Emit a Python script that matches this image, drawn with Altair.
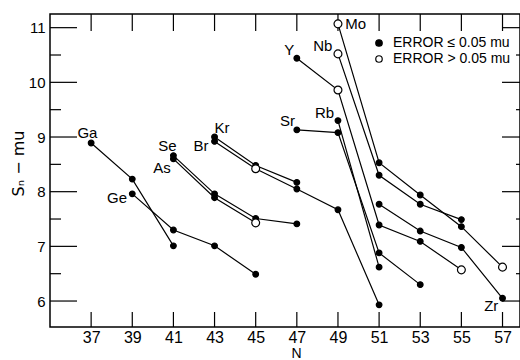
import altair as alt
import pandas as pd

# ---------------- data ----------------
GA_N, GA_S, GA_OPEN = [37, 39, 41], [8.89, 8.23, 7.01], [0, 0, 0]
GE_N, GE_S, GE_OPEN = [39, 41, 43, 45], [7.96, 7.30, 7.01, 6.49], [0, 0, 0, 0]
AS_N, AS_S, AS_OPEN = [41, 43, 45], [8.60, 7.89, 7.43], [0, 0, 1]
SE_N, SE_S, SE_OPEN = [41, 43, 45, 47], [8.66, 7.96, 7.51, 7.41], [0, 0, 0, 0]
KR_N, KR_S, KR_OPEN = [43, 45, 47], [9.00, 8.48, 8.17], [0, 0, 0]
BR_N, BR_S, BR_OPEN = [43, 45, 47, 49, 51], [8.92, 8.42, 8.05, 7.67, 5.93], [0, 1, 0, 0, 0]
SR_N, SR_S, SR_OPEN = [47, 49, 51, 53], [9.13, 9.08, 6.88, 6.30], [0, 0, 0, 0]
RB_N, RB_S, RB_OPEN = [49, 51], [9.30, 6.62], [0, 0]
Y_N, Y_S, Y_OPEN = [47, 49, 51, 53, 55], [10.44, 9.86, 7.39, 7.09, 6.57], [0, 1, 0, 0, 1]
NB_N, NB_S, NB_OPEN = [49, 51, 53, 55], [10.52, 8.30, 7.77, 7.49], [1, 0, 0, 0]
MO_N, MO_S, MO_OPEN = [49, 51, 53, 55, 57], [11.07, 8.53, 7.94, 7.36, 6.62], [1, 0, 0, 0, 1]
ZR_N, ZR_S, ZR_OPEN = [51, 53, 55, 57], [7.77, 7.28, 6.98, 6.05], [0, 0, 0, 0]

# element labels (text anchor in data coordinates)
LABEL_TEXT = ["Ga", "Ge", "Se", "As", "Br", "Kr", "Sr", "Rb", "Y", "Nb", "Mo", "Zr"]
LABEL_N = [36.82, 38.26, 40.71, 40.45, 42.34, 43.36, 46.55, 48.35, 46.63, 48.26, 49.86, 56.45]
LABEL_S = [9.08, 7.89, 8.84, 8.44, 8.84, 9.17, 9.30, 9.44, 10.59, 10.67, 11.06, 5.90]

X_TICKS = [37, 39, 41, 43, 45, 47, 49, 51, 53, 55, 57]
Y_TICKS = [6, 7, 8, 9, 10, 11]
Y_MINOR = [6.5, 7.5, 8.5, 9.5, 10.5]
LEGEND_LABELS = ["ERROR \u2264 0.05 mu", "ERROR > 0.05 mu"]

# ---------------- build table ----------------
series = {
    "Ga": (GA_N, GA_S, GA_OPEN), "Ge": (GE_N, GE_S, GE_OPEN),
    "As": (AS_N, AS_S, AS_OPEN), "Se": (SE_N, SE_S, SE_OPEN),
    "Kr": (KR_N, KR_S, KR_OPEN), "Br": (BR_N, BR_S, BR_OPEN),
    "Sr": (SR_N, SR_S, SR_OPEN), "Rb": (RB_N, RB_S, RB_OPEN),
    "Y": (Y_N, Y_S, Y_OPEN), "Nb": (NB_N, NB_S, NB_OPEN),
    "Mo": (MO_N, MO_S, MO_OPEN), "Zr": (ZR_N, ZR_S, ZR_OPEN),
}
rows = []
for name, (ns, ss, os_) in series.items():
    for n, s, o in zip(ns, ss, os_):
        rows.append({"el": name, "N": n, "S": s, "err": LEGEND_LABELS[o], "open": o})
df = pd.DataFrame(rows)
labels = pd.DataFrame({"t": LABEL_TEXT, "N": LABEL_N, "S": LABEL_S})
xt = pd.DataFrame({"N": X_TICKS})
yt = pd.DataFrame({"S": Y_TICKS})
ym = pd.DataFrame({"S": Y_MINOR})

W, H = 470, 313
FONT = "Liberation Sans"

xscale = alt.Scale(domain=[35, 57.85], nice=False, zero=False)
yscale = alt.Scale(domain=[5.525, 11.25], nice=False, zero=False)

X = alt.X("N:Q", scale=xscale,
          axis=alt.Axis(values=X_TICKS, ticks=False, domain=False, grid=False,
                        labelFontSize=16, labelFont=FONT, labelColor="black",
                        labelPadding=2, title="N", titleFont=FONT, titleFontSize=14,
                        titleFontWeight="normal", titleColor="black",
                        titleX=246, titleY=26, titleBaseline="middle"))
Y = alt.Y("S:Q", scale=yscale,
          axis=alt.Axis(values=Y_TICKS, ticks=False, domain=False, grid=False,
                        labelFontSize=15, labelFont=FONT, labelColor="black",
                        labelPadding=5, title="S\u2099 \u2212 mu", titleFont="DejaVu Sans",
                        titleFontSize=16, titleFontWeight="normal", titleColor="black",
                        titleAngle=270, titleX=-32, titleY=149, titleAlign="center",
                        titleBaseline="middle"))

fill_enc = alt.Fill(
    "err:N",
    scale=alt.Scale(domain=LEGEND_LABELS, range=["black", "white"]),
    legend=alt.Legend(title=None, orient="none", legendX=322, legendY=22,
                      labelFont=FONT, labelFontSize=14, labelColor="black",
                      symbolType="circle", symbolSize=42,
                      symbolStrokeColor="black", symbolStrokeWidth=1.2,
                      labelOffset=7, rowPadding=2, padding=0))

lines = alt.Chart(df).mark_line(color="black", strokeWidth=1.2).encode(
    x=X, y=Y, detail="el:N", order="N:Q")

points_filled = alt.Chart(df).transform_filter("datum.open == 0").mark_point(
    filled=True, shape="circle", stroke="black", strokeWidth=1.2, opacity=1, size=32
).encode(x="N:Q", y="S:Q", fill=fill_enc)

points_open = alt.Chart(df).transform_filter("datum.open == 1").mark_point(
    filled=True, shape="circle", stroke="black", strokeWidth=1.2, opacity=1, size=62
).encode(x="N:Q", y="S:Q", fill=fill_enc)

text = alt.Chart(labels).mark_text(font=FONT, fontSize=15, color="black",
                                   align="center", baseline="middle").encode(
    x="N:Q", y="S:Q", text="t:N")

tick_bottom = alt.Chart(xt).mark_rule(color="black", strokeWidth=1.2).encode(
    x="N:Q", y=alt.value(H), y2=alt.value(H - 15))
tick_top = alt.Chart(xt).mark_rule(color="black", strokeWidth=1.2).encode(
    x="N:Q", y=alt.value(0), y2=alt.value(17))
tick_left = alt.Chart(yt).mark_rule(color="black", strokeWidth=1.2).encode(
    y="S:Q", x=alt.value(0), x2=alt.value(27))
tick_left_minor = alt.Chart(ym).mark_rule(color="black", strokeWidth=1.2).encode(
    y="S:Q", x=alt.value(0), x2=alt.value(11))
tick_right = alt.Chart(yt).mark_rule(color="black", strokeWidth=1.2).encode(
    y="S:Q", x=alt.value(W - 18), x2=alt.value(W))
tick_right_minor = alt.Chart(ym).mark_rule(color="black", strokeWidth=1.2).encode(
    y="S:Q", x=alt.value(W - 4), x2=alt.value(W))

chart = alt.layer(
    lines, tick_bottom, tick_top, tick_left, tick_left_minor, tick_right,
    tick_right_minor, points_filled, points_open, text
).properties(
    width=W, height=H,
    padding={"left": 50, "top": 14, "right": 0, "bottom": 33},
    autosize=alt.AutoSizeParams(type="none"),
    background="white",
).configure_view(stroke="black", strokeWidth=1.5)

chart.save("out.html", embed_options={"renderer": "svg", "actions": False})
